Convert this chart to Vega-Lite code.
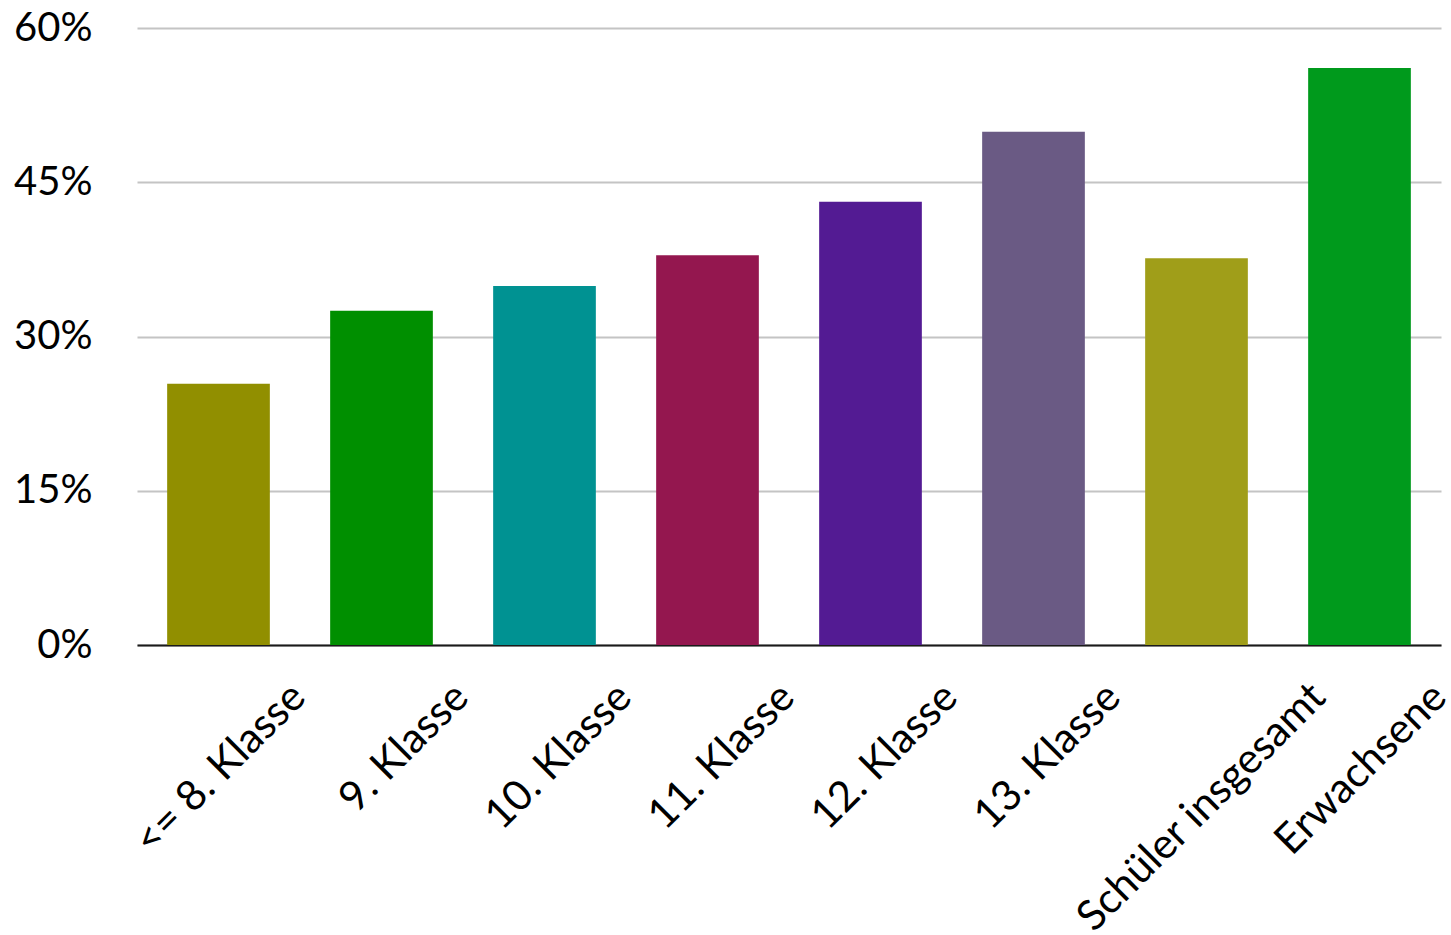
{
  "$schema": "https://vega.github.io/schema/vega-lite/v6.json",
  "width": 1304,
  "height": 617,
  "autosize": {"type": "none"},
  "padding": {"left": 137, "top": 28, "right": 10, "bottom": 290},
  "background": "white",
  "config": {"view": {"stroke": null}, "font": "Lato"},
  "data": {"values": [
    {"kategorie": "<= 8. Klasse", "anteil": 0.254, "farbe": "#918f00"},
    {"kategorie": "9. Klasse", "anteil": 0.325, "farbe": "#008f00"},
    {"kategorie": "10. Klasse", "anteil": 0.349, "farbe": "#009292"},
    {"kategorie": "11. Klasse", "anteil": 0.379, "farbe": "#94174f"},
    {"kategorie": "12. Klasse", "anteil": 0.431, "farbe": "#531b93"},
    {"kategorie": "13. Klasse", "anteil": 0.499, "farbe": "#6a5a84"},
    {"kategorie": "Schüler insgesamt", "anteil": 0.376, "farbe": "#a09e19"},
    {"kategorie": "Erwachsene", "anteil": 0.561, "farbe": "#009a1c"}
  ]},
  "mark": {"type": "bar"},
  "encoding": {
    "x": {
      "field": "kategorie", "type": "nominal", "sort": null,
      "scale": {"paddingInner": 0.37, "paddingOuter": 0.185},
      "axis": {
        "title": null, "ticks": false, "domainColor": "#1a1a1a", "domainWidth": 2,
        "labelAngle": -45, "labelAlign": "right", "labelBaseline": "middle",
        "labelFontSize": 42, "labelColor": "black", "labelPadding": 45,
        "labelLimit": 1000, "labelOverlap": false,
        "labelOffset": {"condition": {"test": "datum.value == 'Schüler insgesamt'", "value": 122}, "value": 80}
      }
    },
    "y": {
      "field": "anteil", "type": "quantitative",
      "scale": {"domain": [0, 0.6]},
      "axis": {
        "title": null, "format": ".0%", "values": [0, 0.15, 0.3, 0.45, 0.6],
        "ticks": false, "domain": false, "grid": true, "gridColor": "#c4c4c4", "gridWidth": 2,
        "labelFontSize": 40, "labelColor": "black", "labelPadding": 45, "labelDy": 4
      }
    },
    "color": {"field": "farbe", "type": "nominal", "scale": null, "legend": null}
  }
}
